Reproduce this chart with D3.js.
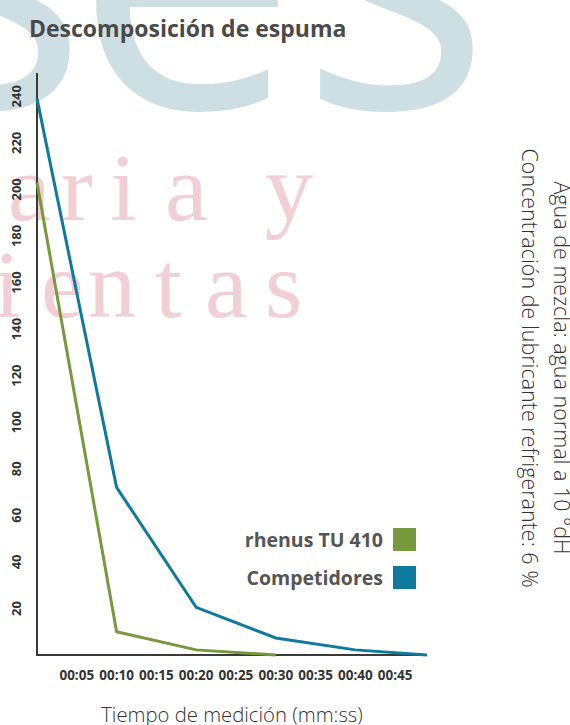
<!DOCTYPE html>
<html>
<head>
<meta charset="utf-8">
<script src="https://cdn.jsdelivr.net/npm/d3@7"></script>
<style>
  body { margin: 0; background: #fff; }
  svg { display: block; }
</style>
</head>
<body>
<svg width="570" height="725"></svg>
<script>
// Data
const seconds = [0, 10, 20, 30, 40, 49];
const competidores = [239, 72, 20.5, 7.3, 2.2, 0];
const rhenusSeconds = [0, 10, 20, 30];
const rhenus = [203, 10, 2.2, 0];
const yTicks = [20, 40, 60, 80, 100, 120, 140, 160, 180, 200, 220, 240];
const xTicks = [5, 10, 15, 20, 25, 30, 35, 40, 45];
const seriesNames = ["rhenus TU 410", "Competidores"];
const seriesColors = ["#76993b", "#0f7a9e"];
const notes = ["Agua de mezcla: agua normal a 10 °dH", "Concentración de lubricante refrigerante: 6 %"];

const svg = d3.select("svg"),
    width = +svg.attr("width"),
    height = +svg.attr("height");

// Background watermark (faded logo behind the chart)
const wm = svg.append("g");
wm.selectAll("text.big")
    .data([["s", -103], ["e", 74], ["s", 300]])
    .join("text")
    .attr("class", "big")
    .attr("x", d => d[1])
    .attr("y", 108)
    .style("font-family", "Open Sans")
    .style("font-size", "400px")
    .style("fill", "#cddfe2")
    .text(d => d[0]);

// pink serif letters, placed one by one
const pinkLetters = [
    ["a", 8, 220], ["r", 61, 220], ["i", 110, 220], ["a", 165, 220], ["y", 265, 220],
    ["i", -6, 317], ["e", 41, 317], ["n", 88, 317], ["t", 155, 317], ["a", 205, 317], ["s", 265, 317]
];
wm.selectAll("text.pink")
    .data(pinkLetters)
    .join("text")
    .attr("class", "pink")
    .attr("x", d => d[1])
    .attr("y", d => d[2])
    .style("font-family", "Liberation Serif")
    .style("font-size", "96px")
    .style("fill", "#f2cfd5")
    .text(d => d[0]);

// Scales
const x = d3.scaleLinear().domain([0, 49]).range([37, 427]);
const y = d3.scaleLinear().domain([0, 250]).range([655, 73]);

// Title
svg.append("text")
    .attr("x", 29)
    .attr("y", 37)
    .style("font-family", "Open Sans")
    .style("font-weight", "bold")
    .style("font-size", "23px")
    .style("fill", "#4a4a4a")
    .text("Descomposición de espuma");

// Y tick labels (rotated)
svg.append("g")
    .selectAll("text")
    .data(yTicks)
    .join("text")
    .attr("transform", d => `translate(16,${y(d)}) rotate(-90)`)
    .attr("text-anchor", "middle")
    .attr("dominant-baseline", "central")
    .style("font-family", "Open Sans")
    .style("font-weight", "bold")
    .style("font-size", "13px")
    .style("fill", "#333")
    .text(d => d);

// X tick labels
svg.append("g")
    .selectAll("text")
    .data(xTicks)
    .join("text")
    .attr("x", d => x(d))
    .attr("y", 680)
    .attr("text-anchor", "middle")
    .style("font-family", "Open Sans")
    .style("font-weight", "bold")
    .style("font-size", "13.5px")
    .style("fill", "#333")
    .text(d => "00:" + d3.format("02d")(d));

// Axes lines
svg.append("path")
    .attr("d", `M${x(0)},${y(250)}V${y(0)}H${x(49)}`)
    .attr("fill", "none")
    .attr("stroke", "#3a3a3a")
    .attr("stroke-width", 2);

// Lines
const line = d3.line()
    .x(d => x(d[0]))
    .y(d => y(d[1]));

svg.append("path")
    .datum(d3.zip(seconds, competidores))
    .attr("d", line)
    .attr("fill", "none")
    .attr("stroke", seriesColors[1])
    .attr("stroke-width", 3);

svg.append("path")
    .datum(d3.zip(rhenusSeconds, rhenus))
    .attr("d", line)
    .attr("fill", "none")
    .attr("stroke", seriesColors[0])
    .attr("stroke-width", 3);

// Legend
const legend = svg.append("g")
    .selectAll("g")
    .data(seriesNames)
    .join("g")
    .attr("transform", (d, i) => `translate(0,${528 + i * 38})`);

legend.append("rect")
    .attr("x", 393)
    .attr("width", 23)
    .attr("height", 23)
    .attr("fill", (d, i) => seriesColors[i]);

legend.append("text")
    .attr("x", 383)
    .attr("y", 19)
    .attr("text-anchor", "end")
    .style("font-family", "Open Sans")
    .style("font-weight", "bold")
    .style("font-size", "19.5px")
    .style("fill", "#555")
    .text(d => d);

// Right notes
svg.append("g")
    .selectAll("text")
    .data(notes)
    .join("text")
    .attr("transform", (d, i) => `translate(${554 - i * 32},368) rotate(90)`)
    .attr("text-anchor", "middle")
    .style("font-family", "Open Sans")
    .style("font-weight", "300")
    .style("font-size", "21.5px")
    .style("fill", "#333")
    .text(d => d);

// X axis title
svg.append("text")
    .attr("x", 232)
    .attr("y", 722)
    .attr("text-anchor", "middle")
    .style("font-family", "Open Sans")
    .style("font-weight", "300")
    .style("font-size", "20.3px")
    .style("fill", "#333")
    .text("Tiempo de medición (mm:ss)");
</script>
</body>
</html>
